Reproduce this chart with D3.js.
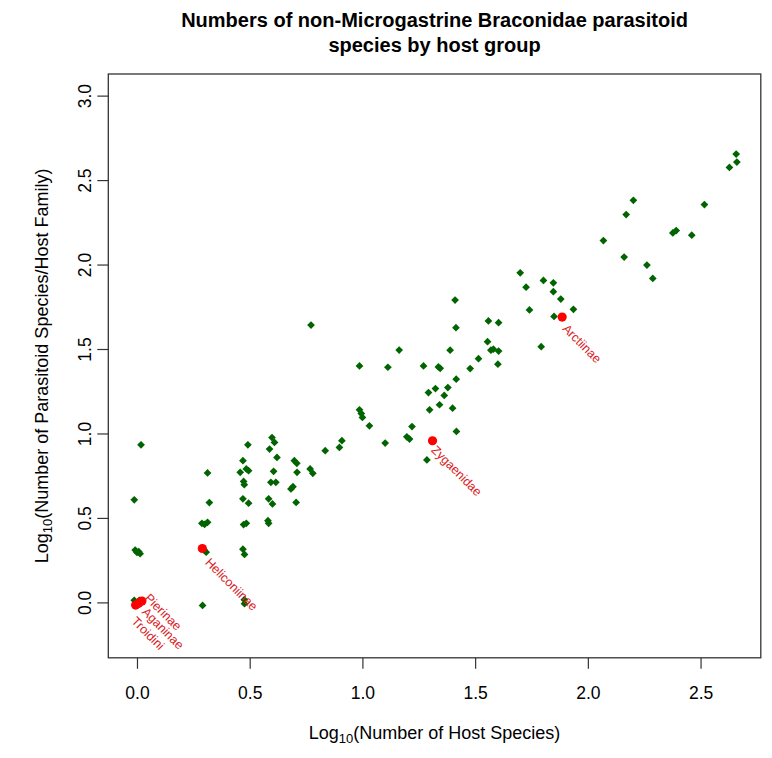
<!DOCTYPE html>
<html>
<head>
<meta charset="utf-8">
<script src="https://cdn.jsdelivr.net/npm/d3@7"></script>
<style>
  html, body { margin: 0; padding: 0; background: #ffffff; }
  #viewportContainer { width: 772px; height: 758px; }
  #viewportContainer text { font-family: "Liberation Sans", Arial, Helvetica, sans-serif; }
</style>
</head>
<body>
<div id="viewportContainer"></div>
<script>

/* --- データ: 全ホスト群 (log10) --- */
const hostLog = [
  0.018, -0.012, -0.008, 0.008, 0.014, 0.000, -0.012, 0.010, -0.004, 0.012,
  0.313, 0.321, 0.288, 0.313, 0.300, 0.307, 0.298, 0.291,
  0.470, 0.458, 0.485, 0.495, 0.473, 0.476, 0.470, 0.495, 0.473, 0.485, 0.470, 0.477, 0.476, 0.477, 0.492,
  0.599, 0.610, 0.588, 0.621, 0.606, 0.594, 0.616, 0.584, 0.601, 0.581, 0.584,
  0.698, 0.709, 0.710, 0.692, 0.683, 0.706,
  0.772, 0.768, 0.780, 0.835, 0.909, 0.898, 0.987, 0.987, 0.995, 1.000,
  1.031, 1.101, 1.113, 1.163, 1.197, 1.209, 1.220, 1.271, 1.286, 1.293,
  1.298, 1.324, 1.337, 1.345, 1.342, 1.363, 1.379, 1.389, 1.400, 1.411,
  1.415, 1.416, 1.417, 1.478, 1.515, 1.555, 1.559, 1.570, 1.581, 1.604,
  1.604, 1.601, 1.700, 1.726, 1.741, 1.793, 1.803, 1.847, 1.847, 1.850,
  1.880, 1.936, 2.069, 2.161, 2.170, 2.202, 2.262, 2.288, 2.377, 2.392,
  2.461, 2.517, 2.628, 2.658, 2.661
];
const paraLog = [
  0.933, 0.607, 0.310, 0.300, 0.288, 0.296, 0.012, 0.012, -0.006, -0.010,
  0.766, 0.591, 0.468, 0.474, 0.462, 0.297, 0.310, -0.018,
  0.839, 0.770, 0.790, 0.780, 0.716, 0.697, 0.613, 0.587, 0.461, 0.468, 0.315, 0.284, 0.016, -0.008, 0.933,
  0.976, 0.947, 0.908, 0.858, 0.776, 0.711, 0.711, 0.613, 0.583, 0.484, 0.468,
  0.839, 0.823, 0.770, 0.685, 0.672, 0.592,
  1.642, 0.790, 0.764, 0.898, 0.957, 0.917, 1.400, 1.140, 1.118, 1.095,
  1.045, 0.943, 1.392, 1.494, 0.980, 0.967, 1.041, 1.400, 0.843, 1.242,
  1.140, 1.266, 1.394, 1.386, 1.170, 1.225, 1.272, 1.493, 1.150, 1.790,
  1.626, 1.321, 1.012, 1.384, 1.443, 1.543, 1.666, 1.493, 1.499, 1.656,
  1.488, 1.410, 1.951, 1.866, 1.731, 1.514, 1.906, 1.892, 1.839, 1.693,
  1.796, 1.735, 2.142, 2.044, 2.296, 2.380, 1.997, 1.918, 2.187, 2.201,
  2.174, 2.355, 2.575, 2.654, 2.607
];

/* --- データ: 強調するホスト群 --- */
const markedNames = ["Pierinae", "Aganinae", "Troidini", "Heliconiinae", "Zygaenidae", "Arctiinae"];
const markedHost = [0.022, 0.008, -0.006, 0.290, 1.311, 1.886];
const markedPara = [0.008, -0.004, -0.016, 0.319, 0.957, 1.689];
// ラベルの位置 (データ座標, R の text() と同じ)
const labelHost = [0.031, 0.019, -0.028, 0.299, 1.302, 1.884];
const labelPara = [0.021, -0.061, -0.116, 0.232, 0.898, 1.616];

/* --- 軸 --- */
const xTicks = [0, 0.5, 1.0, 1.5, 2.0, 2.5];
const yTicks = [0, 0.5, 1.0, 1.5, 2.0, 2.5, 3.0];
const xLimits = [-0.02, 2.66];
const yLimits = [-0.2, 3.0];

const titleLines = ["Numbers of non-Microgastrine Braconidae parasitoid", "species by host group"];


/* --- ビューポート --- */
const viewport = {width: 772, height: 758};
const margin = {top: 74, right: 11.2, bottom: 100.2, left: 108.3};

const svg = d3.select("#viewportContainer")
    .append("svg")
    .attr("width", viewport.width)
    .attr("height", viewport.height)
    .attr("viewBox", "0 0 " + viewport.width + " " + viewport.height);


/*--- スケール (R と同じく 4% 拡張) ---*/
const padX = 0.04 * (xLimits[1] - xLimits[0]);
const padY = 0.04 * (yLimits[1] - yLimits[0]);

const xScale = d3.scaleLinear()
    .domain([xLimits[0] - padX, xLimits[1] + padX])
    .range([margin.left, viewport.width - margin.right]);

const yScale = d3.scaleLinear()
    .domain([yLimits[0] - padY, yLimits[1] + padY])
    .range([viewport.height - margin.bottom, margin.top]);

const plotBottom = viewport.height - margin.bottom;
const plotCenterX = (margin.left + viewport.width - margin.right) / 2;
const plotCenterY = (margin.top + plotBottom) / 2;


/*--- 軸を描画 ---*/
const xAxis = d3.axisBottom(xScale)
    .tickValues(xTicks)
    .tickFormat(d3.format(".1f"))
    .tickSize(11);

const xAxisG = svg.append("g")
    .attr("transform", "translate(0," + plotBottom + ")")
    .call(xAxis);

xAxisG.select(".domain").remove();
xAxisG.selectAll("line").attr("stroke", "#333").attr("stroke-width", 1.2);
xAxisG.selectAll("text")
    .attr("y", 41.5)
    .attr("dy", null)
    .attr("fill", "#000")
    .style("font-size", "17.5px");

const yAxis = d3.axisLeft(yScale)
    .tickValues(yTicks)
    .tickFormat(d3.format(".1f"))
    .tickSize(11);

const yAxisG = svg.append("g")
    .attr("transform", "translate(" + margin.left + ",0)")
    .call(yAxis);

yAxisG.select(".domain").remove();
yAxisG.selectAll("line").attr("stroke", "#333").attr("stroke-width", 1.2);
yAxisG.selectAll("text")
    .attr("transform", "rotate(-90)")
    .attr("x", 0)
    .attr("y", -17.8)
    .attr("dy", null)
    .attr("fill", "#000")
    .style("text-anchor", "middle")
    .style("font-size", "17.5px");

// 枠
svg.append("rect")
    .attr("x", margin.left)
    .attr("y", margin.top)
    .attr("width", viewport.width - margin.right - margin.left)
    .attr("height", plotBottom - margin.top)
    .attr("fill", "none")
    .attr("stroke", "#333")
    .attr("stroke-width", 1.3);


/*--- 点を描画 ---*/
const dataAll = hostLog.map(function(d, i) { return {x: d, y: paraLog[i]}; });
const diamond = d3.symbol().type(d3.symbolSquare).size(30);

svg.append("g").selectAll("path")
    .data(dataAll)
    .enter()
    .append("path")
    .attr("d", diamond)
    .attr("transform", function(d) {
        return "translate(" + xScale(d.x) + "," + yScale(d.y) + ") rotate(45)";
    })
    .attr("fill", "#006400");

const marked = markedNames.map(function(d, i) {
    return {name: d, x: markedHost[i], y: markedPara[i], lx: labelHost[i], ly: labelPara[i]};
});

svg.append("g").selectAll("circle")
    .data(marked)
    .enter()
    .append("circle")
    .attr("cx", function(d) { return xScale(d.x); })
    .attr("cy", function(d) { return yScale(d.y); })
    .attr("r", 4.6)
    .attr("fill", "#ff0000");

svg.append("g").selectAll("text")
    .data(marked)
    .enter()
    .append("text")
    .attr("transform", function(d) {
        return "translate(" + xScale(d.lx) + "," + yScale(d.ly) + ") rotate(45)";
    })
    .attr("fill", "#d8201e")
    .style("font-size", "12.5px")
    .text(function(d) { return d.name; });


/*--- タイトル・軸ラベル ---*/
svg.append("g").selectAll("text")
    .data(titleLines)
    .enter()
    .append("text")
    .attr("x", plotCenterX)
    .attr("y", function(d, i) { return 27 + i * 25; })
    .attr("text-anchor", "middle")
    .style("font-size", "20px")
    .style("font-weight", "bold")
    .text(function(d) { return d; });

const xTitle = svg.append("text")
    .attr("x", plotCenterX)
    .attr("y", 739)
    .attr("text-anchor", "middle")
    .style("font-size", "18px");
xTitle.append("tspan").text("Log");
xTitle.append("tspan").attr("dy", 4).style("font-size", "13px").text("10");
xTitle.append("tspan").attr("dy", -4).text("(Number of Host Species)");

const yTitle = svg.append("text")
    .attr("transform", "translate(48," + plotCenterY + ") rotate(-90)")
    .attr("text-anchor", "middle")
    .style("font-size", "18px");
yTitle.append("tspan").text("Log");
yTitle.append("tspan").attr("dy", 4).style("font-size", "13px").text("10");
yTitle.append("tspan").attr("dy", -4).text("(Number of Parasitoid Species/Host Family)");

</script>
</body>
</html>
